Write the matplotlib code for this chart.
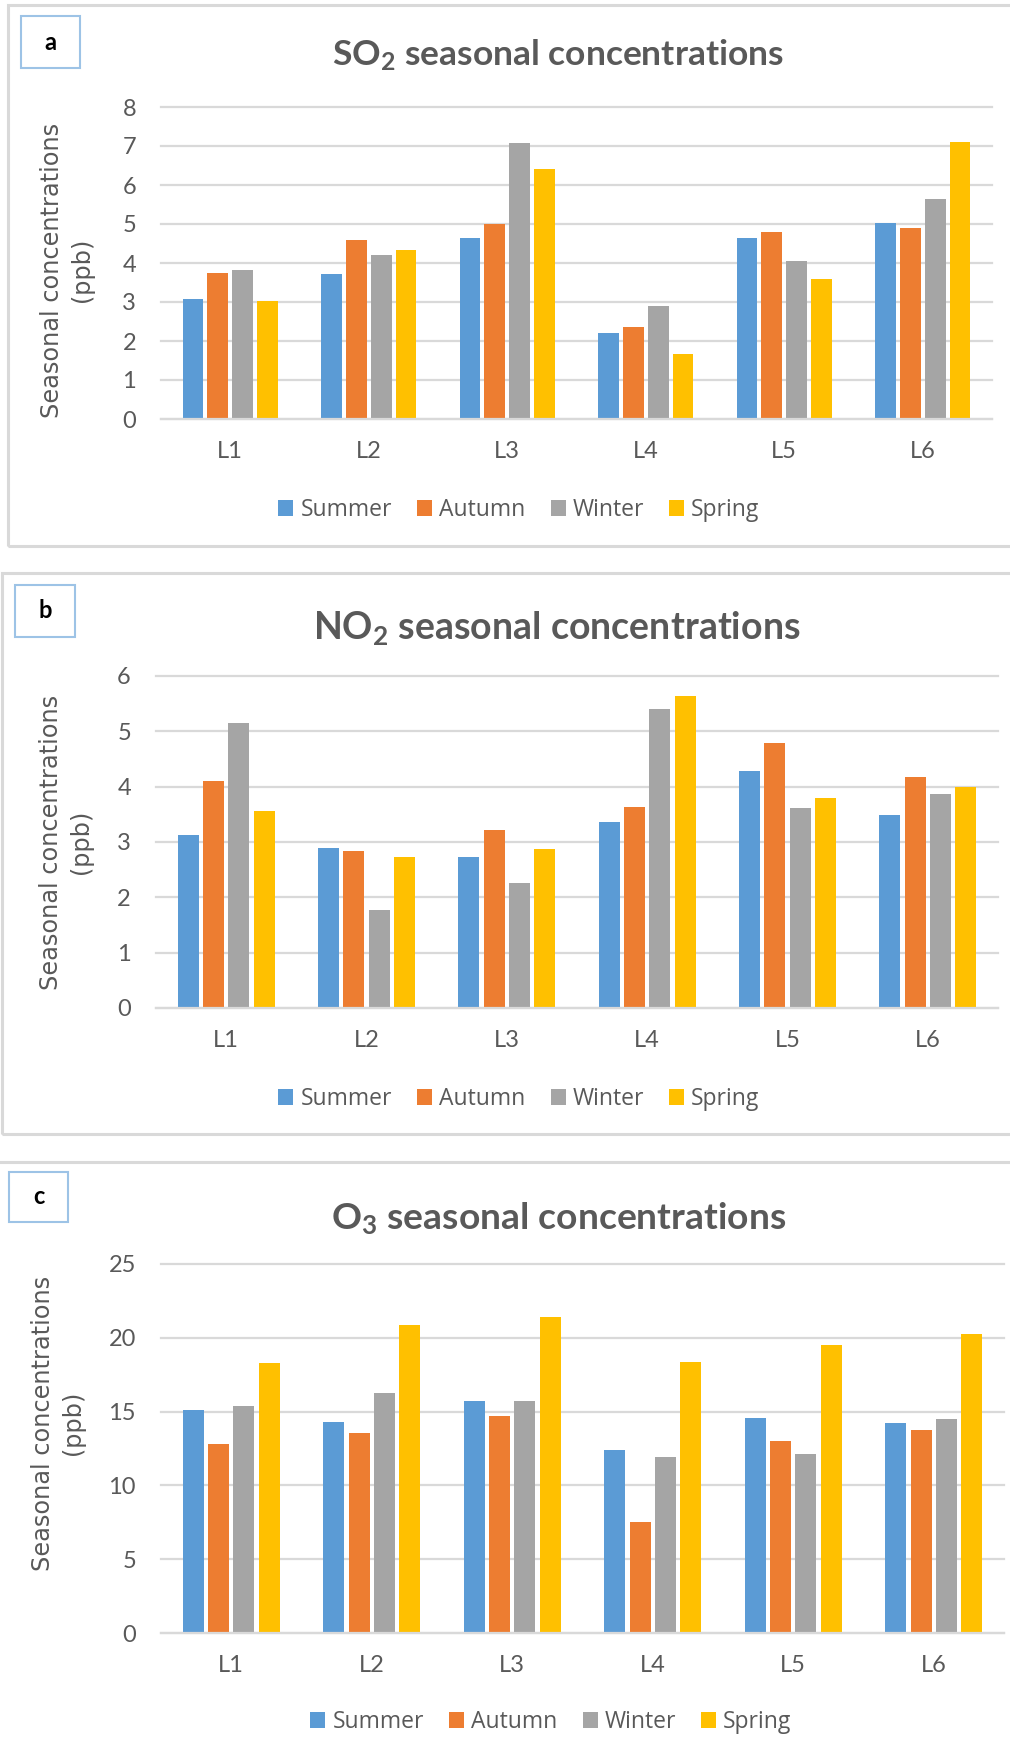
import numpy as np
import matplotlib
matplotlib.use("Agg")
import matplotlib.pyplot as plt
from matplotlib.patches import Rectangle
from matplotlib.lines import Line2D

# ---- data -------------------------------------------------------------
locations = ["L1", "L2", "L3", "L4", "L5", "L6"]
seasons = ["Summer", "Autumn", "Winter", "Spring"]
season_colors = ["#5B9BD5", "#ED7D31", "#A5A5A5", "#FFC000"]

so2_summer = [3.07, 3.72, 4.64, 2.21, 4.64, 5.02]
so2_autumn = [3.75, 4.58, 4.99, 2.37, 4.80, 4.90]
so2_winter = [3.83, 4.20, 7.07, 2.91, 4.05, 5.63]
so2_spring = [3.03, 4.33, 6.42, 1.67, 3.58, 7.10]

no2_summer = [3.13, 2.90, 2.72, 3.36, 4.28, 3.49]
no2_autumn = [4.11, 2.84, 3.22, 3.64, 4.79, 4.18]
no2_winter = [5.15, 1.78, 2.25, 5.40, 3.62, 3.87]
no2_spring = [3.56, 2.72, 2.88, 5.64, 3.80, 4.00]

o3_summer = [15.10, 14.29, 15.71, 12.41, 14.55, 14.21]
o3_autumn = [12.80, 13.53, 14.71, 7.51, 12.98, 13.74]
o3_winter = [15.39, 16.28, 15.71, 11.91, 12.15, 14.48]
o3_spring = [18.27, 20.84, 21.41, 18.35, 19.53, 20.26]

so2_ticks = [0, 1, 2, 3, 4, 5, 6, 7, 8]
no2_ticks = [0, 1, 2, 3, 4, 5, 6]
o3_ticks = [0, 5, 10, 15, 20, 25]

# ---- figure in pixel units -------------------------------------------
W, H = 1010, 1753
DPI = 100
fig = plt.figure(figsize=(W / DPI, H / DPI), dpi=DPI, facecolor="white")

TEXT = "#595959"
GRID = "#D9D9D9"

plt.rcParams["mathtext.fontset"] = "custom"
plt.rcParams["mathtext.rm"] = "Lato:bold"
plt.rcParams["mathtext.it"] = "Lato:bold"
plt.rcParams["mathtext.bf"] = "Lato:bold"


def fx(x):
    return x / W


def fy(y):
    return 1 - y / H


def add_axes_px(left, top, right, bottom):
    return fig.add_axes([fx(left), fy(bottom), (right - left) / W, (bottom - top) / H])


def frame_box(x0, y0, x1, y1, color, lw):
    fig.add_artist(Rectangle((fx(x0), fy(y1)), (x1 - x0) / W, (y1 - y0) / H,
                             transform=fig.transFigure, fill=False,
                             edgecolor=color, linewidth=lw, clip_on=False))


def panel(rect, series, ticks, title, title_pos, title_size,
          ylabel_pos, legend_pos, letter, letter_box):
    left, top, right, bottom = rect
    ax = add_axes_px(left, top, right, bottom)
    x = np.arange(len(locations))
    step, width = 0.18, 0.149
    handles = []
    for i, (vals, col, name) in enumerate(zip(series, season_colors, seasons)):
        b = ax.bar(x + (i - 1.5) * step, vals, width=width, color=col,
                   label=name, zorder=3)
        handles.append(b)
    ax.set_xlim(-0.5, len(locations) - 0.5)
    ax.set_ylim(ticks[0], ticks[-1])
    ax.set_yticks(ticks)
    ax.set_xticks(x)
    ax.set_xticklabels(locations)
    for s in ["top", "left", "right"]:
        ax.spines[s].set_visible(False)
    ax.spines["bottom"].set_color(GRID)
    ax.spines["bottom"].set_linewidth(1.6)
    ax.spines["bottom"].set_zorder(4)
    ax.yaxis.grid(True, color=GRID, linewidth=1.6, zorder=0)
    for gl in ax.get_ygridlines():
        gl.set_clip_on(False)
    ax.set_axisbelow(True)
    ax.tick_params(axis="y", length=0, pad=18, labelsize=17,
                   labelcolor=TEXT)
    ax.tick_params(axis="x", length=0, pad=15.5, labelsize=17,
                   labelcolor=TEXT)
    for lab in ax.get_xticklabels() + ax.get_yticklabels():
        lab.set_fontfamily("Lato")

    # title with chemical subscript
    fig.text(fx(title_pos[0]), fy(title_pos[1]), title, ha="center",
             va="baseline", fontsize=title_size, fontweight="bold",
             family="Lato", color=TEXT)

    # rotated axis title
    fig.text(fx(ylabel_pos[0]), fy(ylabel_pos[1]),
             "Seasonal concentrations\n(ppb)", rotation=90, ha="center",
             va="center", multialignment="center", fontsize=17.3,
             family="DejaVu Sans", color=TEXT, linespacing=1.3)

    # legend
    fig.legend(handles=handles, labels=seasons, loc="center",
               bbox_to_anchor=(fx(legend_pos[0]), fy(legend_pos[1])),
               ncol=4, frameon=False, prop={"family": "Open Sans", "size": 16.5},
               labelcolor=TEXT, handlelength=0.66, handleheight=0.66,
               handletextpad=0.3, columnspacing=1.1, borderaxespad=0)

    # panel letter in a small outlined box
    bx0, by0, bx1, by1 = letter_box
    frame_box(bx0, by0, bx1, by1, "#9DC3E6", 1.5)
    fig.text(fx((bx0 + bx1) / 2), fy((by0 + by1) / 2), letter, ha="center",
             va="center", fontsize=17, fontweight="bold", family="Lato",
             color="black")
    return ax


# outer frames of the panels
frame_box(8, 5, 1030, 546, GRID, 2.2)
frame_box(2, 573, 1030, 1134, GRID, 2.2)
fig.add_artist(Line2D([0, 1], [fy(1162), fy(1162)], transform=fig.transFigure,
                      color=GRID, linewidth=2.2))

panel((161, 107, 992, 419),
      [so2_summer, so2_autumn, so2_winter, so2_spring], so2_ticks,
      r"SO$_{2}$ seasonal concentrations", (558, 66), 25.5,
      (67, 270), (519, 510), "a", (21, 16, 80, 68))

panel((156, 676, 998, 1008),
      [no2_summer, no2_autumn, no2_winter, no2_spring], no2_ticks,
      r"NO$_{2}$ seasonal concentrations", (557, 639), 27,
      (66, 842), (519, 1099), "b", (15, 585, 75, 637))

panel((161, 1264, 1004, 1633),
      [o3_summer, o3_autumn, o3_winter, o3_spring], o3_ticks,
      r"O$_{3}$ seasonal concentrations", (559, 1229), 26.8,
      (58, 1423), (551, 1722), "c", (9, 1172, 68, 1222))

fig.savefig("out.png", dpi=DPI, facecolor="white")
